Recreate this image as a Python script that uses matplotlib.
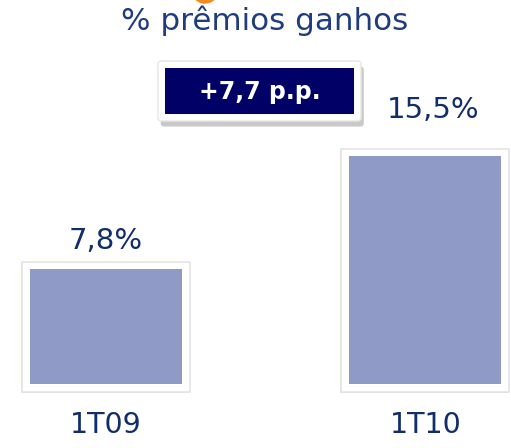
import matplotlib.pyplot as plt
from matplotlib.patches import Rectangle, FancyBboxPatch, Circle
import matplotlib.patheffects as pe

# dados
periodos = ['1T09', '1T10']
valores = [7.8, 15.5]
rotulos = ['7,8%', '15,5%']
titulo = '% prêmios ganhos'
variacao = '+7,7 p.p.'

cor_barra = '#8f9bc6'
cor_texto = '#112d6a'
cor_titulo = '#1f3c7e'
cor_caixa = '#000066'

fig = plt.figure(figsize=(5.11, 4.48), dpi=100)

# eixo das barras
ax = fig.add_axes([0, 64 / 448, 1, 384 / 448])
ax.set_xlim(-0.332, 1.268)
ax.set_ylim(0, 26.1)
ax.axis('off')

x = range(len(valores))
larg = 0.476
# moldura branca com sombra
molduras = ax.bar(x, [v + 1.05 for v in valores], width=larg + 0.05, bottom=-0.55,
                  color='white', edgecolor='#e4e4e4', linewidth=1.2,
                  path_effects=[pe.SimplePatchShadow(offset=(-1, -1), shadow_rgbFace='#c8c8c8', alpha=0.5),
                                pe.Normal()])
for m in molduras:
    m.set_clip_on(False)
ax.bar(x, valores, width=larg, color=cor_barra)

desloc = [(0, 14), (8, 32)]
for i, (v, r) in enumerate(zip(valores, rotulos)):
    ax.annotate(r, (i, v), xytext=desloc[i], textcoords='offset pixels',
                ha='center', va='bottom', fontsize=21, color=cor_texto)
    ax.annotate(periodos[i], (i, 0), xytext=(0, -27), textcoords='offset pixels',
                ha='center', va='top', fontsize=20.5, color=cor_texto)

# camada de enfeites em pixels
ov = fig.add_axes([0, 0, 1, 1], zorder=5)
ov.set_xlim(0, 511)
ov.set_ylim(448, 0)
ov.axis('off')
ov.patch.set_alpha(0)

ov.add_patch(Circle((205, -10.5), 13.5, color='#f58a1f', zorder=0))
ov.text(265, 21, titulo, ha='center', va='center', fontsize=22.3, color=cor_titulo, zorder=2)

moldura = FancyBboxPatch((158, 61), 203, 60, boxstyle='round,pad=0,rounding_size=3',
                         fc='white', ec='#e6e6e6', lw=1,
                         path_effects=[pe.SimplePatchShadow(offset=(2, -4), shadow_rgbFace='#888888', alpha=0.45),
                                       pe.Normal()])
ov.add_patch(moldura)
ov.add_patch(Rectangle((165, 68), 189, 46, fc=cor_caixa, ec='none'))
ov.text(259.5, 92, variacao, ha='center', va='center', fontsize=17, fontweight='bold', color='white')

fig.savefig('out.png', dpi=100)
